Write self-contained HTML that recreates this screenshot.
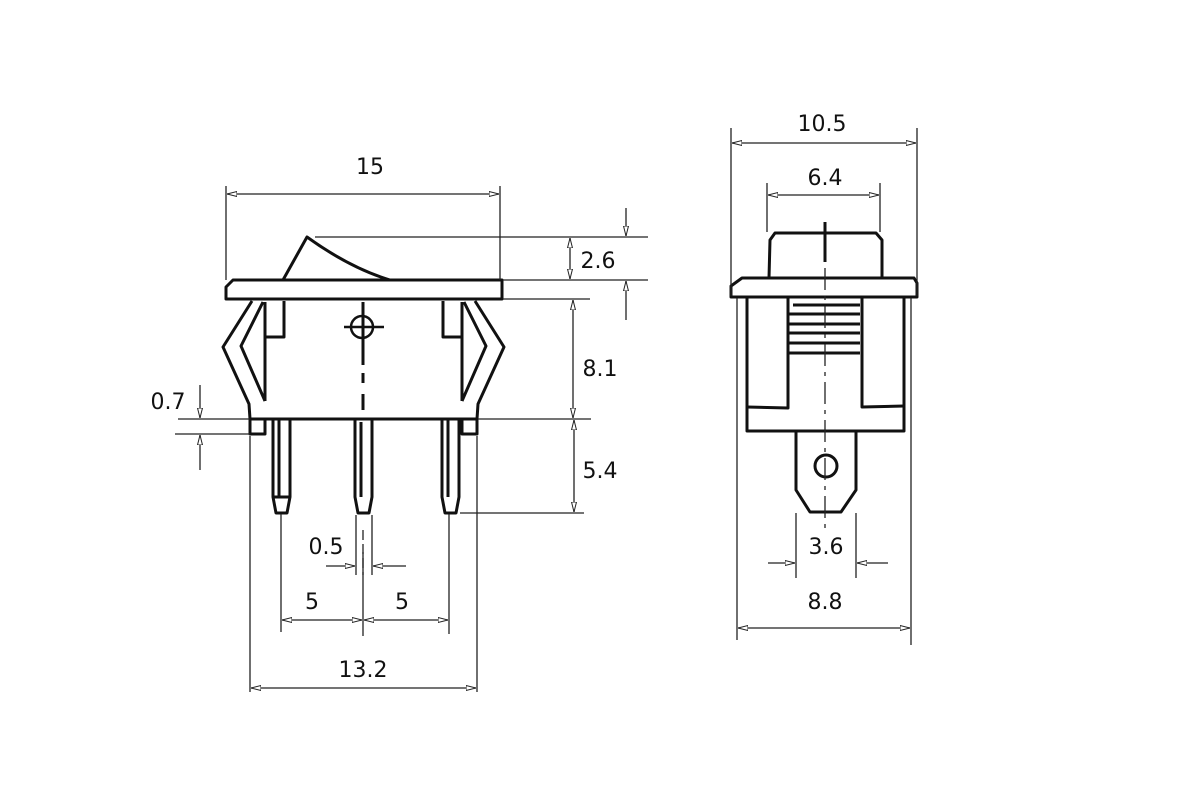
<!DOCTYPE html>
<html><head><meta charset="utf-8"><style>
html,body{margin:0;padding:0;background:#fff;}
svg{display:block}
text{font-family:"DejaVu Sans","Liberation Sans",sans-serif;font-size:22px;fill:#111;text-anchor:middle}
</style></head><body>
<svg width="1200" height="800" viewBox="0 0 1200 800" xmlns="http://www.w3.org/2000/svg">
<defs>
<marker id="a" viewBox="0 0 10 6" refX="10" refY="3" markerWidth="10" markerHeight="6" orient="auto-start-reverse" markerUnits="userSpaceOnUse">
<path d="M0,0.5 L10,3 L0,5.5 Z" fill="#fff" stroke="#222" stroke-width="1"/>
</marker>
</defs>
<g fill="none" stroke="#111" stroke-width="3" stroke-linejoin="round">
<path d="M283,280 L307,237 Q350,268 390,280"/>
<path d="M233,280 L502,280 L502,299 L226,299 L226,287 Z"/>
<path d="M252,301 L223,347 L249,404 L250,419 L250,434 L265,434 L265,419"/>
<path d="M263,302 L241,346 L265,401 M265,302 L265,401 M265,337 L284,337 L284,301"/>
<path d="M475,301 L504,347 L478,404 L477,419 L477,434 L462,434 L462,419"/>
<path d="M464,302 L486,346 L462,401 M462,302 L462,401 M462,337 L443,337 L443,301"/>
<path d="M250,419 L477,419"/>
<path d="M273,419 L273,497 L276,513 L287,513 L290,497 L290,419 M279,420 L279,497 M273,497 L290,497"/>
<path d="M355,419 L355,497 L358,513 L369,513 L372,497 L372,419 M361,422 L361,497"/>
<path d="M442,419 L442,497 L445,513 L456,513 L459,497 L459,419 M448,420 L448,497"/>
</g>
<g fill="none" stroke="#111" stroke-width="2.5">
<circle cx="362" cy="327" r="11"/>
<path d="M344,327 L384,327"/>
<path d="M363,302 L363,365 M363,373 L363,383 M363,394 L363,410" stroke-width="3"/>
</g>
<g fill="none" stroke="#111" stroke-width="3" stroke-linejoin="round">
<path d="M769,278 L770,240 L775,233 L876,233 L882,240 L882,278"/>
<path d="M742,278 L914,278 L917,283 L917,297 L731,297 L731,286 Z"/>
<path d="M747,298 L747,431 L904,431 L904,298"/>
<path d="M788,298 L788,408 L747,407 M862,298 L862,407 L904,406"/>
<path d="M793,305 L860,305 M788,314 L860,314 M788,324 L860,324 M788,333 L860,333 M788,343 L860,343 M788,353 L860,353"/>
<path d="M796,431 L796,490 L810,512 L841,512 L856,490 L856,431"/>
<circle cx="826" cy="466" r="11"/>
<path d="M825,222 L825,262" stroke-width="3"/>
</g>
<g fill="none" stroke="#222" stroke-width="1.3">
<path d="M825,268 L825,530" stroke-dasharray="22,6,4,6"/>
<path d="M363,530 L363,575" stroke-dasharray="10,4"/>
<path d="M226,186 L226,280 M500,186 L500,280"/>
<path d="M227,194 L499,194" marker-start="url(#a)" marker-end="url(#a)"/>
<path d="M315,237 L648,237 M503,280 L648,280 M503,299 L590,299 M478,419 L591,419 M460,513 L584,513"/>
<path d="M570,238 L570,279" marker-start="url(#a)" marker-end="url(#a)"/>
<path d="M626,208 L626,236" marker-end="url(#a)"/>
<path d="M626,320 L626,281" marker-end="url(#a)"/>
<path d="M573,300 L573,418" marker-start="url(#a)" marker-end="url(#a)"/>
<path d="M574,420 L574,512" marker-start="url(#a)" marker-end="url(#a)"/>
<path d="M178,419 L250,419 M175,434 L250,434"/>
<path d="M200,385 L200,418" marker-end="url(#a)"/>
<path d="M200,470 L200,435" marker-end="url(#a)"/>
<path d="M250,436 L250,692 M477,436 L477,692 M281,514 L281,632 M449,514 L449,634 M363,552 L363,636 M356,515 L356,575 M372,515 L372,575"/>
<path d="M326,566 L355,566" marker-end="url(#a)"/>
<path d="M406,566 L373,566" marker-end="url(#a)"/>
<path d="M282,620 L362,620" marker-start="url(#a)" marker-end="url(#a)"/>
<path d="M364,620 L448,620" marker-start="url(#a)" marker-end="url(#a)"/>
<path d="M251,688 L476,688" marker-start="url(#a)" marker-end="url(#a)"/>
<path d="M731,128 L731,296 M917,128 L917,296"/>
<path d="M732,143 L916,143" marker-start="url(#a)" marker-end="url(#a)"/>
<path d="M767,183 L767,232 M880,183 L880,232"/>
<path d="M768,195 L879,195" marker-start="url(#a)" marker-end="url(#a)"/>
<path d="M796,513 L796,578 M856,513 L856,578"/>
<path d="M768,563 L795,563" marker-end="url(#a)"/>
<path d="M888,563 L857,563" marker-end="url(#a)"/>
<path d="M737,298 L737,640 M911,298 L911,645"/>
<path d="M738,628 L910,628" marker-start="url(#a)" marker-end="url(#a)"/>
</g>
<text x="370" y="174">15</text>
<text x="598" y="268">2.6</text>
<text x="600" y="376">8.1</text>
<text x="600" y="478">5.4</text>
<text x="168" y="409">0.7</text>
<text x="326" y="554">0.5</text>
<text x="312" y="609">5</text>
<text x="402" y="609">5</text>
<text x="363" y="677">13.2</text>
<text x="822" y="131">10.5</text>
<text x="825" y="185">6.4</text>
<text x="826" y="554">3.6</text>
<text x="825" y="609">8.8</text>
</svg>
</body></html>
